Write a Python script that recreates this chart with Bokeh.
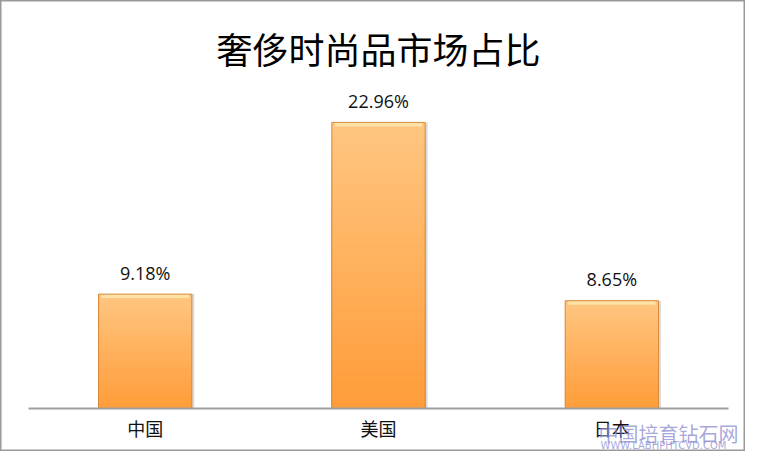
from bokeh.plotting import figure
from bokeh.models import Range1d, ColumnDataSource
from bokeh.core.properties import value
from bokeh.embed import file_html
from bokeh.resources import INLINE

# ---- data ----
title_text = "奢侈时尚品市场占比"
categories = ["中国", "美国", "日本"]
shares = [9.18, 22.96, 8.65]
share_labels = ["9.18%", "22.96%", "8.65%"]
watermark_cn = "中国培育钻石网"
watermark_en = "WWW.LABHPHTCVD.COM"

# ---- layout constants (pixels in figure) ----
W, H = 745, 451
left_px, right_px = 28, 17          # axis extent inside figure
base_px = 408                       # baseline from top
px_per_cat = (W - left_px - right_px) / len(categories)
px_per_pct = 12.46

x0 = -left_px / px_per_cat
x1 = len(categories) + right_px / px_per_cat
y0 = -(H - base_px) / px_per_pct
y1 = base_px / px_per_pct


def ypix(py):
    """figure pixel row (from top) -> data y"""
    return (base_px - py) / px_per_pct


def xpix(px):
    return (px - left_px) / px_per_cat


p = figure(width=W, height=H, output_backend="svg", toolbar_location=None,
           x_range=Range1d(x0, x1), y_range=Range1d(y0, y1),
           x_axis_location=None, y_axis_location=None, min_border=0)
p.title.visible = False
p.grid.visible = False
p.background_fill_color = "white"
p.border_fill_color = "white"
p.outline_line_color = "#9a9a9a"
p.outline_line_width = 2

xs = [i + 0.5 for i in range(len(categories))]
bar_w = 0.4


def hexmix(c1, c2, t):
    a = [int(c1[i:i + 2], 16) for i in (1, 3, 5)]
    b = [int(c2[i:i + 2], 16) for i in (1, 3, 5)]
    return "#%02x%02x%02x" % tuple(round(a[k] + (b[k] - a[k]) * t) for k in range(3))


# shadow
p.vbar(x=[x + 2.5 / px_per_cat for x in xs], top=shares, bottom=0, width=bar_w,
       fill_color="#b0b0b0", fill_alpha=0.45, line_color=None)

# gradient bars: nested bars from 0, tallest (lightest) first -> no seams
N = 40
sx, st, sc = [], [], []
for i in reversed(range(N)):
    for x, v in zip(xs, shares):
        sx.append(x)
        st.append(v * (i + 1) / N)
        sc.append(hexmix("#ff9d3a", "#ffc580", i / (N - 1)))
p.vbar(x=sx, bottom=0, top=st, width=bar_w, fill_color=sc, line_color=None)

# top highlight bevel
hl = 4 / px_per_pct
p.vbar(x=xs, top=shares, bottom=[v - hl for v in shares], width=bar_w - 6 / px_per_cat,
       fill_color="#ffe2a6", line_color=None)
# outline
p.vbar(x=xs, top=shares, bottom=0, width=bar_w, fill_color=None,
       line_color="#d8893a", line_width=1)

# baseline axis line
p.segment(x0=[0], y0=[0], x1=[len(categories)], y1=[0], line_color="#a0a0a0", line_width=2)

# value labels
src = ColumnDataSource(dict(x=xs, y=[v + 21.5 / px_per_pct for v in shares], t=share_labels))
p.text(x="x", y="y", text="t", source=src, text_align="center", text_baseline="middle",
       text_font=value("Open Sans"), text_font_size="18px", text_color="#111111")

# category labels
csrc = ColumnDataSource(dict(x=xs, y=[ypix(427)] * len(xs), t=categories))
p.text(x="x", y="y", text="t", source=csrc, text_align="center", text_baseline="middle",
       text_font=value("Noto Sans CJK SC"), text_font_size="18px", text_color="#111111")

# title
p.text(x=[len(categories) / 2], y=[ypix(47)], text=[title_text],
       text_align="center", text_baseline="middle",
       text_font=value("Noto Sans CJK SC"), text_font_size="36px", text_color="#000000")

# watermark
p.text(x=[xpix(598)], y=[ypix(433)], text=[watermark_cn], text_align="left", text_baseline="middle",
       text_font=value("Noto Sans CJK SC"), text_font_size="20px", text_color="#8a8ad0", text_alpha=0.75)
p.text(x=[xpix(600)], y=[ypix(445)], text=[watermark_en], text_align="left", text_baseline="middle",
       text_font=value("DejaVu Sans"), text_font_size="10px", text_color="#8a8ad0", text_alpha=0.75)

open("out.html", "w").write(file_html(p, INLINE))
